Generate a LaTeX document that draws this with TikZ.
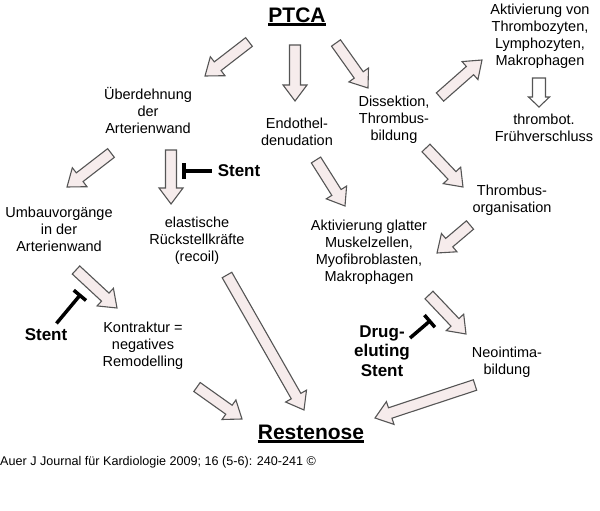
\documentclass[tikz,border=0pt]{standalone}
\usepackage{fontspec}
\setmainfont{Liberation Sans}
\usetikzlibrary{arrows.meta,calc}

\definecolor{pfeilfuellung}{RGB}{246,236,236}
\definecolor{pfeilrand}{RGB}{85,85,85}

\tikzset{
  txt/.style={align=center, inner sep=0pt, font=\fontsize{14.5}{17}\selectfont},
  fett/.style={align=center, inner sep=0pt, font=\fontsize{17}{19.5}\selectfont\bfseries},
  titel/.style={inner sep=0pt, font=\fontsize{21}{24}\selectfont\bfseries},
  quelle/.style={inner sep=0pt, anchor=west, font=\fontsize{12.6}{14}\selectfont},
  pfeil/.style={fill=pfeilfuellung, draw=pfeilrand, line width=1.1pt, line join=miter},
  hohlpfeil/.style={pfeil, fill=white},
  hemmung/.style={line width=3.5pt, -{Bar[width=16pt]}},
}

% Blockpfeil von #2 nach #3
\newcommand{\schaftb}{5.5pt}
\newcommand{\kopfb}{12pt}
\newcommand{\kopfl}{16pt}
\newcommand{\blockpfeil}[3][pfeil]{%
  \filldraw[#1] let \p1=(#2), \p2=(#3),
      \n1={atan2(\y2-\y1,\x2-\x1)}, \n2={veclen(\x2-\x1,\y2-\y1)} in
    [shift={(\p1)}, rotate=\n1]
    (0pt,-\schaftb) -- ({\n2-\kopfl},-\schaftb) -- ({\n2-\kopfl},-\kopfb)
    -- ({\n2},0pt) -- ({\n2-\kopfl},\kopfb) -- ({\n2-\kopfl},\schaftb)
    -- (0pt,\schaftb) -- cycle;}

\begin{document}
\begin{tikzpicture}[x=1pt,y=-1pt]
\useasboundingbox (0,0) rectangle (600,511);

% Texte
\node[titel] (ptca) at (297,15) {PTCA};
\draw[line width=2.5pt] ([yshift=-2pt]ptca.south west) -- ([yshift=-2pt]ptca.south east);
\node[txt] (ueberdehnung) at (148,111) {Überdehnung\\der\\Arterienwand};
\node[txt] (endothel) at (297,132) {Endothel-\\denudation};
\node[txt] (dissektion) at (394,120) {Dissektion,\\Thrombus-\\bildung};
\node[txt] (aktivierung) at (540,36) {Aktivierung von\\Thrombozyten,\\Lymphozyten,\\Makrophagen};
\node[txt] (verschluss) at (544,128) {thrombot.\\Frühverschluss};
\node[txt] (umbau) at (59,229) {Umbauvorgänge\\in der\\Arterienwand};
\node[txt] (recoil) at (197,241) {elastische\\Rückstellkräfte\\(recoil)};
\node[txt] (organisation) at (512,200) {Thrombus-\\organisation};
\node[txt] (glattmuskel) at (369,252) {Aktivierung glatter\\Muskelzellen,\\Myofibroblasten,\\Makrophagen};
\node[txt] (kontraktur) at (143,346) {Kontraktur =\\negatives\\Remodelling};
\node[txt] (neointima) at (507,362) {Neointima-\\bildung};
\node[titel] (restenose) at (311,432) {Restenose};
\draw[line width=2.5pt] ([yshift=-2pt]restenose.south west) -- ([yshift=-2pt]restenose.south east);

\node[fett] (stentA) at (239,171) {Stent};
\node[fett] (stentB) at (46,335) {Stent};
\node[fett] (des) at (382,351) {Drug-\\eluting\\Stent};

\node[quelle] (quelle) at (0,462) {Auer J Journal für Kardiologie 2009; 16 (5-6): 240-241 ©};

% Blockpfeile
\foreach \sx/\sy/\zx/\zy [count=\i] in {249/42/205/76, 295/45/295/101, 336/43/368/88,
    440/97/482/60, 426/148/463/187, 316/160/345/206, 111/153/67/187, 171/150/171/204,
    470/225/437/253, 76/270/117/308, 429/295/466/334, 227/275/304/410, 197/387/242/419,
    475/385/375/418}
{
  \coordinate (s\i) at (\sx,\sy);
  \coordinate (z\i) at (\zx,\zy);
  \blockpfeil{s\i}{z\i}
}
\coordinate (s0) at (539,78);
\coordinate (z0) at (539,107);
{\renewcommand{\schaftb}{6.5pt}\renewcommand{\kopfb}{10.5pt}\renewcommand{\kopfl}{10pt}%
 \blockpfeil[hohlpfeil]{s0}{z0}}

% Hemmung durch Stent
\coordinate (h1) at (182,171);
\coordinate (h2) at (81,294);
\coordinate (h3) at (431,320);
\draw[hemmung, shorten <=6pt] (stentA.west) -- (h1);
\draw[hemmung, shorten <=7pt] ([xshift=6pt]stentB.north) -- (h2);
\draw[hemmung] ([yshift=13pt]des.east) -- (h3);
\end{tikzpicture}
\end{document}
